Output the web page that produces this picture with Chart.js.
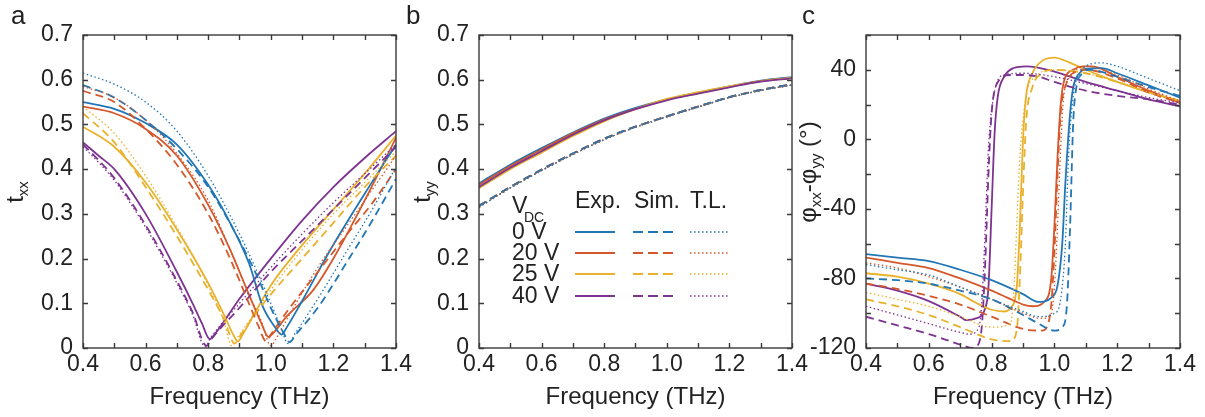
<!DOCTYPE html>
<html>
<head>
<meta charset="utf-8">
<script src="https://cdn.jsdelivr.net/npm/chart.js@4.4.1/dist/chart.umd.min.js"></script>
<style>
  body { margin: 0; background: #fff; width: 1205px; height: 417px; position: relative; overflow: hidden;
         font-family: "Liberation Sans", Arial, sans-serif; color: #222; }
  .box { position: absolute; top: 0; height: 417px; }
  .letter { position: absolute; font-size: 26px; line-height: 1; }
  .ytitle { position: absolute; font-size: 24px; white-space: nowrap; line-height: 1;
            transform: translate(-50%, -50%) rotate(-90deg); }
  .ytitle sub { font-size: 15px; vertical-align: -5px; }
</style>
</head>
<body>
<div class="box" style="left:0;width:420px"><canvas id="chartA" width="420" height="417"></canvas></div>
<div class="box" style="left:420px;width:400px"><canvas id="chartB" width="400" height="417"></canvas></div>
<div class="box" style="left:800px;width:405px"><canvas id="chartC" width="405" height="417"></canvas></div>

<div class="letter" style="left:11px;top:2px">a</div>
<div class="letter" style="left:406px;top:2px">b</div>
<div class="letter" style="left:802px;top:2px">c</div>
<div class="ytitle" style="left:16px;top:192px">t<sub>xx</sub></div>
<div class="ytitle" style="left:423px;top:192px">t<sub>yy</sub></div>
<div class="ytitle" style="left:809px;top:172px">φ<sub>xx</sub>-φ<sub>yy</sub> (°)</div>

<script>
// colours for 0 V, 20 V, 25 V, 40 V
const colors = ["#2176b5", "#d4582b", "#e9b12c", "#7d3390"];
const voltages = ["0 V", "20 V", "25 V", "40 V"];

// ---- panel a : t_xx ----
const a_exp0_f = [0.4,0.5,0.6,0.7,0.8,0.87,0.93,0.975,1.01,1.035,1.05,1.1,1.19,1.3,1.4];
const a_exp0_t = [0.55,0.535,0.503,0.455,0.365,0.28,0.19,0.092,0.05,0.03,0.045,0.105,0.219,0.345,0.455];
const a_sim0_f = [0.4,0.5,0.6,0.7,0.8,0.9,0.96,1.0,1.04,1.06,1.08,1.15,1.25,1.32,1.4];
const a_sim0_t = [0.588,0.56,0.51,0.445,0.36,0.24,0.155,0.09,0.035,0.013,0.03,0.09,0.2,0.28,0.378];
const a_tl0_f = [0.4,0.5,0.6,0.7,0.8,0.9,0.96,1.0,1.03,1.055,1.08,1.15,1.25,1.32,1.4];
const a_tl0_t = [0.615,0.59,0.55,0.485,0.385,0.255,0.165,0.1,0.05,0.01,0.035,0.11,0.225,0.305,0.405];

const a_exp20_f = [0.4,0.5,0.6,0.7,0.8,0.87,0.93,0.97,0.992,1.01,1.05,1.136,1.2,1.3,1.4];
const a_exp20_t = [0.54,0.525,0.49,0.43,0.32,0.22,0.12,0.055,0.025,0.035,0.07,0.13,0.2,0.33,0.47];
const a_sim20_f = [0.4,0.5,0.6,0.7,0.8,0.87,0.93,0.96,0.985,1.0,1.05,1.15,1.25,1.32,1.4];
const a_sim20_t = [0.575,0.55,0.49,0.41,0.3,0.2,0.1,0.05,0.015,0.03,0.08,0.17,0.26,0.32,0.4];
const a_tl20_f = [0.4,0.5,0.6,0.7,0.8,0.87,0.93,0.97,1.0,1.02,1.06,1.15,1.25,1.32,1.4];
const a_tl20_t = [0.585,0.56,0.51,0.435,0.33,0.22,0.12,0.06,0.005,0.025,0.075,0.18,0.28,0.35,0.43];

const a_exp25_f = [0.4,0.5,0.6,0.7,0.8,0.85,0.88,0.895,0.91,0.95,1.0,1.1,1.2,1.3,1.4];
const a_exp25_t = [0.495,0.45,0.37,0.265,0.145,0.075,0.03,0.015,0.03,0.08,0.14,0.23,0.31,0.39,0.475];
const a_sim25_f = [0.4,0.5,0.6,0.7,0.8,0.85,0.885,0.9,0.95,1.0,1.1,1.2,1.3,1.4];
const a_sim25_t = [0.525,0.46,0.36,0.25,0.13,0.065,0.01,0.025,0.075,0.12,0.2,0.28,0.36,0.43];
const a_tl25_f = [0.4,0.5,0.6,0.7,0.8,0.85,0.875,0.89,0.95,1.0,1.1,1.2,1.3,1.4];
const a_tl25_t = [0.54,0.48,0.385,0.27,0.14,0.06,0.005,0.02,0.08,0.13,0.22,0.3,0.37,0.44];

const a_exp40_f = [0.4,0.45,0.5,0.6,0.7,0.75,0.78,0.805,0.82,0.9,1.0,1.1,1.2,1.3,1.4];
const a_exp40_t = [0.46,0.43,0.4,0.3,0.17,0.1,0.055,0.02,0.03,0.11,0.2,0.285,0.36,0.425,0.485];
const a_sim40_f = [0.4,0.45,0.5,0.6,0.7,0.75,0.795,0.81,0.9,1.0,1.1,1.2,1.3,1.4];
const a_sim40_t = [0.455,0.42,0.38,0.275,0.15,0.08,0.005,0.02,0.09,0.17,0.24,0.31,0.38,0.45];
const a_tl40_f = [0.4,0.45,0.5,0.6,0.7,0.75,0.79,0.81,0.9,1.0,1.1,1.2,1.3,1.4];
const a_tl40_t = [0.45,0.415,0.375,0.27,0.145,0.075,0.003,0.025,0.1,0.18,0.255,0.325,0.39,0.455];

// ---- panel b : t_yy ----
const b_f = [0.4,0.5,0.6,0.7,0.8,0.9,1.0,1.1,1.2,1.3,1.4];
const b_exp0 = [0.368,0.41,0.447,0.482,0.513,0.537,0.556,0.571,0.585,0.598,0.606];
const b_exp20 = [0.365,0.407,0.444,0.48,0.511,0.535,0.555,0.57,0.584,0.597,0.604];
const b_exp25 = [0.357,0.4,0.437,0.474,0.507,0.534,0.557,0.572,0.585,0.597,0.604];
const b_exp40 = [0.36,0.403,0.44,0.477,0.509,0.534,0.554,0.569,0.583,0.596,0.603];
const b_sim = [0.318,0.36,0.399,0.435,0.468,0.495,0.518,0.54,0.561,0.577,0.59];
const b_tl = [0.315,0.358,0.397,0.433,0.466,0.494,0.517,0.539,0.56,0.576,0.588];

// ---- panel c : phase difference ----
const c_exp0_f = [0.4,0.5,0.6,0.7,0.8,0.9,0.95,0.99,1.01,1.025,1.035,1.05,1.06,1.08,1.1,1.15,1.2,1.3,1.4];
const c_exp0_p = [-66,-68,-70,-75,-81,-89,-93.5,-91,-84,-60,-25,15,30,38,40.5,41,38,31,24];
const c_sim0_f = [0.4,0.5,0.6,0.7,0.8,0.9,0.95,1.0,1.025,1.04,1.05,1.06,1.07,1.09,1.11,1.2,1.3,1.4];
const c_sim0_p = [-80,-81,-83,-87,-92,-101,-106,-110,-108,-95,-50,10,30,38,40,36,30,25];
const c_tl0_f = [0.4,0.5,0.6,0.7,0.8,0.9,0.95,1.0,1.02,1.035,1.045,1.06,1.08,1.1,1.15,1.2,1.3,1.4];
const c_tl0_p = [-72,-75,-78,-85,-92,-99,-102,-100,-92,-60,-10,25,38,42,44,42,35,28];

const c_exp20_f = [0.4,0.5,0.6,0.7,0.8,0.85,0.9,0.93,0.97,0.99,1.0,1.01,1.02,1.03,1.06,1.09,1.12,1.2,1.3,1.4];
const c_exp20_p = [-68,-71,-74,-80,-87,-91,-95,-96,-93,-80,-50,-10,20,33,40,42,42,36,28,21];
const c_sim20_f = [0.4,0.5,0.6,0.7,0.8,0.9,0.96,0.98,0.99,1.0,1.01,1.02,1.04,1.07,1.1,1.2,1.3,1.4];
const c_sim20_p = [-83,-86,-90,-95,-102,-109,-110,-106,-95,-65,-20,15,33,39,40,35,27,21];
const c_tl20_f = [0.4,0.5,0.6,0.7,0.8,0.9,0.96,0.99,1.0,1.01,1.02,1.03,1.05,1.08,1.1,1.2,1.3,1.4];
const c_tl20_p = [-71,-74,-79,-85,-92,-100,-103,-100,-85,-50,-5,25,36,41,42,37,29,22];

const c_exp25_f = [0.4,0.5,0.6,0.7,0.75,0.8,0.84,0.86,0.88,0.89,0.9,0.91,0.93,0.96,1.0,1.05,1.1,1.2,1.3,1.4];
const c_exp25_p = [-77,-79,-83,-89,-94,-98,-99,-97,-85,-50,0,25,38,45,47,44,40,33,27,22];
const c_sim25_f = [0.4,0.5,0.6,0.7,0.8,0.86,0.88,0.89,0.9,0.91,0.93,0.96,1.0,1.1,1.2,1.3,1.4];
const c_sim25_p = [-92,-96,-101,-108,-115,-116,-110,-80,-30,10,30,38,40,38,33,27,22];
const c_tl25_f = [0.4,0.5,0.6,0.7,0.8,0.86,0.87,0.88,0.89,0.91,0.94,1.0,1.1,1.2,1.3,1.4];
const c_tl25_p = [-88,-92,-96,-102,-108,-106,-90,-50,-10,25,36,40,38,33,27,22];

const c_exp40_f = [0.4,0.5,0.6,0.7,0.72,0.75,0.78,0.79,0.8,0.81,0.82,0.84,0.87,0.91,1.0,1.1,1.2,1.3,1.4];
const c_exp40_p = [-83,-87,-93,-102,-104,-103,-97,-85,-40,5,25,36,41,42,39,33,28,23,19];
const c_sim40_f = [0.4,0.5,0.6,0.7,0.74,0.76,0.77,0.78,0.79,0.8,0.82,0.86,0.9,0.95,1.0,1.1,1.2,1.3,1.4];
const c_sim40_p = [-102,-107,-112,-118,-120,-117,-105,-70,-20,15,33,37,37,36,33,28,25,23,20];
const c_tl40_f = [0.4,0.5,0.6,0.7,0.73,0.76,0.77,0.78,0.79,0.81,0.84,0.9,1.0,1.1,1.2,1.3,1.4];
const c_tl40_p = [-96,-101,-106,-111,-112,-108,-90,-50,-5,28,37,38,36,32,28,24,21];

const FONT = "'Liberation Sans', Arial, sans-serif";
const TICK_SIZE = 23;
const styles = {
  exp: { borderWidth: 1.8, borderDash: [] },
  sim: { borderWidth: 1.8, borderDash: [8, 5] },
  tl:  { borderWidth: 1.3, borderDash: [1.5, 2.5] },
};

function pts(f, v) {
  return f.map((x, i) => ({ x: x, y: v[i] }));
}
function line(f, v, colorIdx, kind) {
  return {
    data: pts(f, v),
    borderColor: colors[colorIdx],
    borderWidth: styles[kind].borderWidth,
    borderDash: styles[kind].borderDash,
    pointRadius: 0,
    fill: false,
    cubicInterpolationMode: "monotone",
  };
}

// box around the plot with inward ticks on all four sides
const frame = {
  id: "frame",
  afterDatasetsDraw(chart) {
    const { ctx, chartArea: ca, scales: { x, y } } = chart;
    ctx.save();
    ctx.strokeStyle = "#3a3a3a";
    ctx.lineWidth = 1.4;
    ctx.strokeRect(ca.left, ca.top, ca.right - ca.left, ca.bottom - ca.top);
    const L = 5;
    ctx.beginPath();
    x.ticks.forEach((t) => {
      const px = Math.round(x.getPixelForValue(t.value)) + 0.5;
      ctx.moveTo(px, ca.bottom); ctx.lineTo(px, ca.bottom - L);
      ctx.moveTo(px, ca.top); ctx.lineTo(px, ca.top + L);
    });
    y.ticks.forEach((t) => {
      const py = Math.round(y.getPixelForValue(t.value)) + 0.5;
      ctx.moveTo(ca.left, py); ctx.lineTo(ca.left + L, py);
      ctx.moveTo(ca.right, py); ctx.lineTo(ca.right - L, py);
    });
    ctx.stroke();
    ctx.restore();
  },
};

function makeChart(id, datasets, yOpts, yWidth, padRight, extraPlugins) {
  return new Chart(document.getElementById(id), {
    type: "line",
    data: { datasets: datasets },
    options: {
      responsive: false,
      animation: false,
      layout: { padding: { top: 35, right: padRight, bottom: 0, left: 0 } },
      plugins: { legend: { display: false }, tooltip: { enabled: false } },
      scales: {
        x: {
          type: "linear", min: 0.4, max: 1.4,
          grid: { display: false, drawTicks: false },
          border: { display: false },
          ticks: {
            stepSize: 0.1, autoSkip: false, maxRotation: 0, padding: 3,
            color: "#222", font: { family: FONT, size: TICK_SIZE },
            callback: (v) => (Math.round(v * 10) % 2 === 0 ? v.toFixed(1) : ""),
          },
          title: {
            display: true, text: "Frequency (THz)", color: "#222",
            font: { family: FONT, size: 24 }, padding: { top: 0, bottom: 5 },
          },
          afterFit: (s) => { s.height = 69; },
        },
        y: Object.assign({
          grid: { display: false, drawTicks: false },
          border: { display: false },
          afterFit: (s) => { s.width = yWidth; },
        }, yOpts),
      },
    },
    plugins: [frame].concat(extraPlugins || []),
  });
}

const tYOpts = {
  min: 0, max: 0.7,
  ticks: {
    stepSize: 0.1, autoSkip: false, padding: 10, color: "#222",
    font: { family: FONT, size: TICK_SIZE },
    callback: (v) => (Math.abs(v) < 1e-9 ? "0" : v.toFixed(1)),
  },
};

// panel a
makeChart("chartA", [
  line(a_tl0_f, a_tl0_t, 0, "tl"), line(a_tl20_f, a_tl20_t, 1, "tl"),
  line(a_tl25_f, a_tl25_t, 2, "tl"), line(a_tl40_f, a_tl40_t, 3, "tl"),
  line(a_sim0_f, a_sim0_t, 0, "sim"), line(a_sim20_f, a_sim20_t, 1, "sim"),
  line(a_sim25_f, a_sim25_t, 2, "sim"), line(a_sim40_f, a_sim40_t, 3, "sim"),
  line(a_exp0_f, a_exp0_t, 0, "exp"), line(a_exp20_f, a_exp20_t, 1, "exp"),
  line(a_exp25_f, a_exp25_t, 2, "exp"), line(a_exp40_f, a_exp40_t, 3, "exp"),
], tYOpts, 83, 24);

// legend drawn inside panel b
const vdcLegend = {
  id: "vdcLegend",
  afterDraw(chart) {
    const ctx = chart.ctx;
    ctx.save();
    ctx.fillStyle = "#222";
    ctx.textBaseline = "alphabetic";
    ctx.font = "23px " + FONT;
    ctx.fillText("V", 92, 213);
    ctx.fillText("Exp.", 155, 208);
    ctx.fillText("Sim.", 214, 208);
    ctx.fillText("T.L.", 270, 208);
    ctx.font = "14px " + FONT;
    ctx.fillText("DC", 104, 222);
    const rows = [232, 253, 274, 296];
    ctx.font = "23px " + FONT;
    ctx.textBaseline = "middle";
    rows.forEach((ry, i) => {
      ctx.fillStyle = "#222";
      ctx.fillText(voltages[i], 92, ry + 1);
      ctx.strokeStyle = colors[i];
      [["exp", 155, 195], ["sim", 213, 253], ["tl", 270, 308]].forEach(([k, x0, x1]) => {
        ctx.lineWidth = styles[k].borderWidth;
        ctx.setLineDash(k === "sim" ? [10, 5] : styles[k].borderDash);
        ctx.beginPath();
        ctx.moveTo(x0, ry); ctx.lineTo(x1, ry);
        ctx.stroke();
      });
    });
    ctx.restore();
  },
};

// panel b
makeChart("chartB", [
  line(b_f, b_tl, 0, "tl"), line(b_f, b_tl, 1, "tl"), line(b_f, b_tl, 2, "tl"), line(b_f, b_tl, 3, "tl"),
  line(b_f, b_sim, 0, "sim"), line(b_f, b_sim, 1, "sim"), line(b_f, b_sim, 2, "sim"), line(b_f, b_sim, 3, "sim"),
  line(b_f, b_exp40, 3, "exp"), line(b_f, b_exp25, 2, "exp"),
  line(b_f, b_exp20, 1, "exp"), line(b_f, b_exp0, 0, "exp"),
], tYOpts, 59, 28, [vdcLegend]);

// panel c
makeChart("chartC", [
  line(c_tl0_f, c_tl0_p, 0, "tl"), line(c_tl20_f, c_tl20_p, 1, "tl"),
  line(c_tl25_f, c_tl25_p, 2, "tl"), line(c_tl40_f, c_tl40_p, 3, "tl"),
  line(c_sim0_f, c_sim0_p, 0, "sim"), line(c_sim20_f, c_sim20_p, 1, "sim"),
  line(c_sim25_f, c_sim25_p, 2, "sim"), line(c_sim40_f, c_sim40_p, 3, "sim"),
  line(c_exp0_f, c_exp0_p, 0, "exp"), line(c_exp20_f, c_exp20_p, 1, "exp"),
  line(c_exp25_f, c_exp25_p, 2, "exp"), line(c_exp40_f, c_exp40_p, 3, "exp"),
], {
  min: -120, max: 60,
  ticks: {
    stepSize: 20, autoSkip: false, padding: 10, color: "#222",
    font: { family: FONT, size: TICK_SIZE },
    callback: (v) => (v % 40 === 0 ? String(v) : ""),
  },
}, 66, 25);
</script>
</body>
</html>
